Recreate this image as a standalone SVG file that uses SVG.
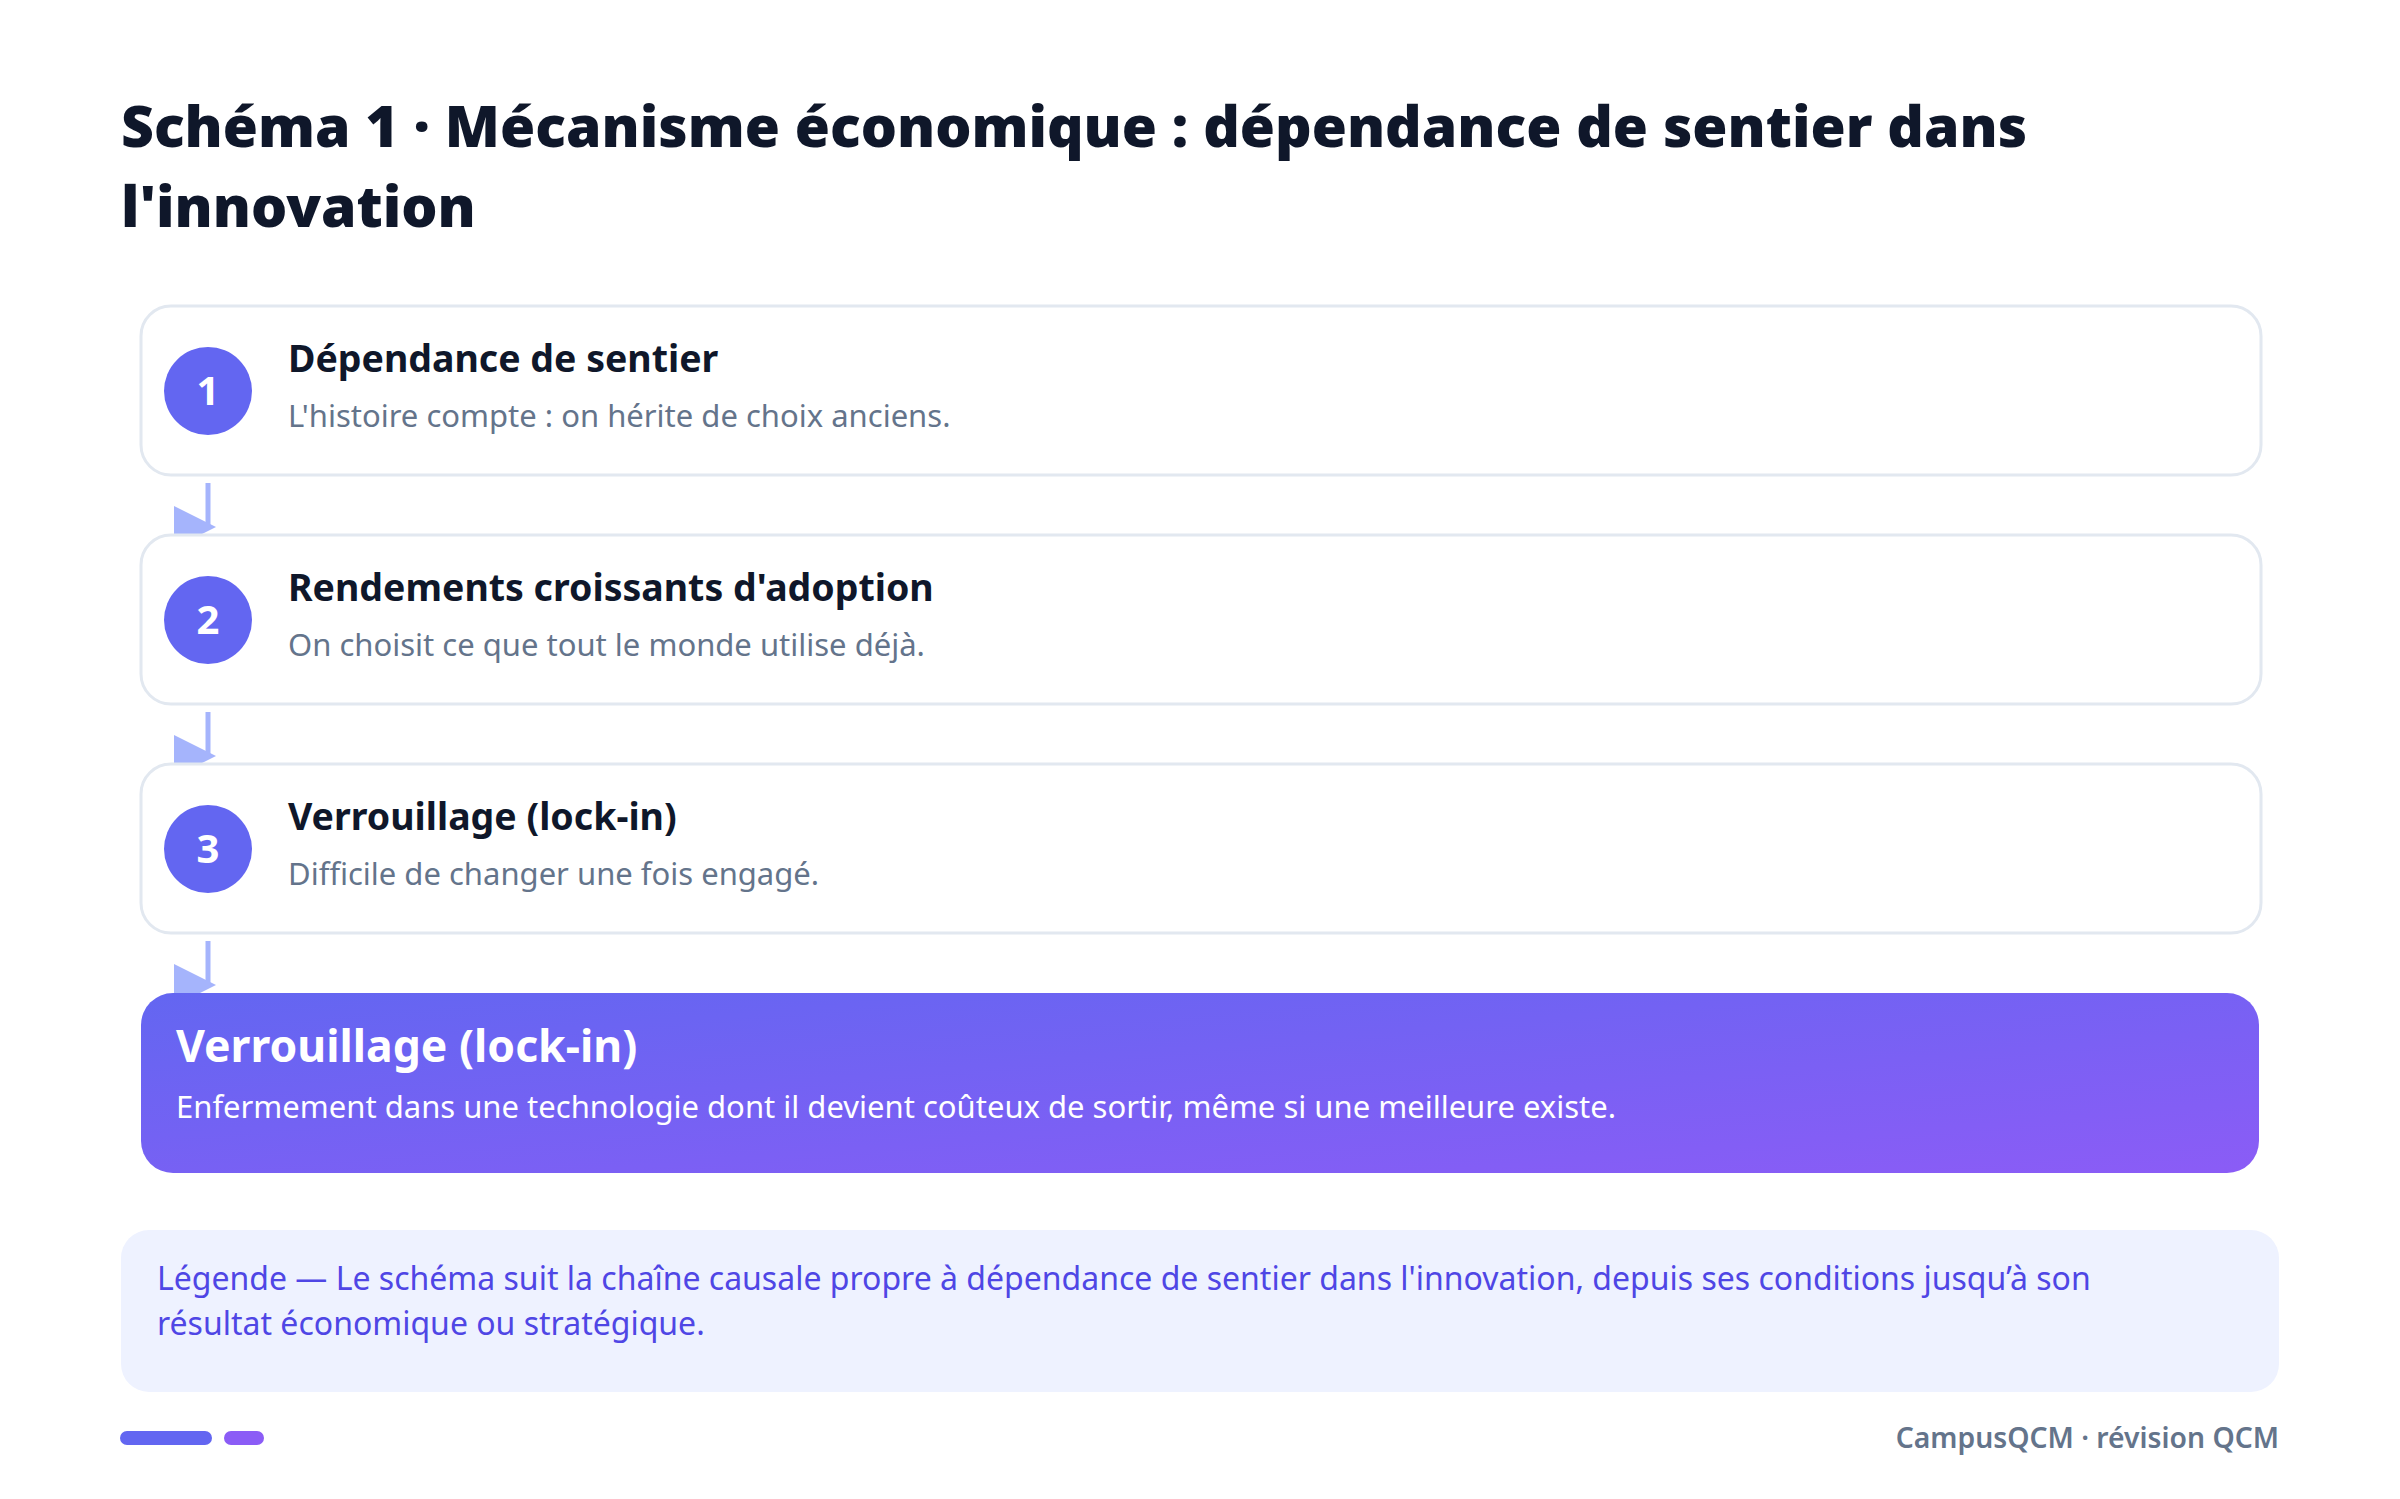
<svg xmlns="http://www.w3.org/2000/svg" width="2400" height="1499" viewBox="0 0 2400 1499">
<defs>
<linearGradient id="grad" x1="0" y1="0" x2="1" y2="1">
<stop offset="0" stop-color="#6366f1"/>
<stop offset="1" stop-color="#8b5cf6"/>
</linearGradient>
<style>
.title{font-family:"Noto Sans","Liberation Sans",sans-serif;font-weight:900;font-size:57px;fill:#0f172a}
.box{fill:#ffffff;stroke:#e2e8f0;stroke-width:3}
.num{fill:#6366f1}
.numt{font-family:"Noto Sans","Liberation Sans",sans-serif;font-weight:700;font-size:40px;fill:#ffffff;text-anchor:middle}
.st{font-family:"Noto Sans","Liberation Sans",sans-serif;font-weight:700;font-size:37.5px;fill:#0f172a}
.ss{font-family:"Noto Sans","Liberation Sans",sans-serif;font-weight:400;font-size:31px;fill:#64748b}
.ft{font-family:"Noto Sans","Liberation Sans",sans-serif;font-weight:700;font-size:44.5px;fill:#ffffff}
.fs{font-family:"Noto Sans","Liberation Sans",sans-serif;font-weight:400;font-size:31px;fill:#ffffff}
.lg{font-family:"Noto Sans","Liberation Sans",sans-serif;font-weight:400;font-size:32px;fill:#4f46e5}
.foot{font-family:"Noto Sans","Liberation Sans",sans-serif;font-weight:600;font-size:28.3px;fill:#64748b;text-anchor:end}
.cl{stroke:#a5b4fc;stroke-width:5;fill:none}
.ch{fill:#a5b4fc}
</style>
</defs>
<rect width="2400" height="1499" fill="#ffffff"/>
<g id="title">
<text class="title" x="121" y="147">Schéma 1 · Mécanisme économique : dépendance de sentier dans</text>
<text class="title" x="121" y="227">l'innovation</text>
</g>
<g id="connectors">
<line class="cl" x1="208" y1="483" x2="208" y2="527"/>
<polygon class="ch" points="174,506 216,527 174,548"/>
<line class="cl" x1="208" y1="712" x2="208" y2="756"/>
<polygon class="ch" points="174,735 216,756 174,777"/>
<line class="cl" x1="208" y1="941" x2="208" y2="985"/>
<polygon class="ch" points="174,964 216,985 174,1006"/>
</g>
<g id="step1">
<rect class="box" x="141" y="306" width="2120" height="169" rx="30"/>
<circle class="num" cx="208" cy="391" r="44"/>
<text class="numt" x="208" y="405">1</text>
<text class="st" x="288" y="372">Dépendance de sentier</text>
<text class="ss" x="288" y="427">L'histoire compte : on hérite de choix anciens.</text>
</g>
<g id="step2">
<rect class="box" x="141" y="535" width="2120" height="169" rx="30"/>
<circle class="num" cx="208" cy="620" r="44"/>
<text class="numt" x="208" y="634">2</text>
<text class="st" x="288" y="601">Rendements croissants d'adoption</text>
<text class="ss" x="288" y="656">On choisit ce que tout le monde utilise déjà.</text>
</g>
<g id="step3">
<rect class="box" x="141" y="764" width="2120" height="169" rx="30"/>
<circle class="num" cx="208" cy="849" r="44"/>
<text class="numt" x="208" y="863">3</text>
<text class="st" x="288" y="830">Verrouillage (lock-in)</text>
<text class="ss" x="288" y="885">Difficile de changer une fois engagé.</text>
</g>
<g id="result">
<rect x="141" y="993" width="2118" height="180" rx="32" fill="url(#grad)"/>
<text class="ft" x="176" y="1062">Verrouillage (lock-in)</text>
<text class="fs" x="176" y="1118">Enfermement dans une technologie dont il devient coûteux de sortir, même si une meilleure existe.</text>
</g>
<g id="legend">
<rect x="121" y="1230" width="2158" height="162" rx="28" fill="#eef2ff"/>
<text class="lg" x="157" y="1290">Légende — Le schéma suit la chaîne causale propre à dépendance de sentier dans l'innovation, depuis ses conditions jusqu’à son</text>
<text class="lg" x="157" y="1335">résultat économique ou stratégique.</text>
</g>
<g id="footer">
<rect x="120" y="1431" width="92" height="14" rx="7" fill="#6366f1"/>
<rect x="224" y="1431" width="40" height="14" rx="7" fill="#8b5cf6"/>
<text class="foot" x="2279" y="1448">CampusQCM · révision QCM</text>
</g>
</svg>
